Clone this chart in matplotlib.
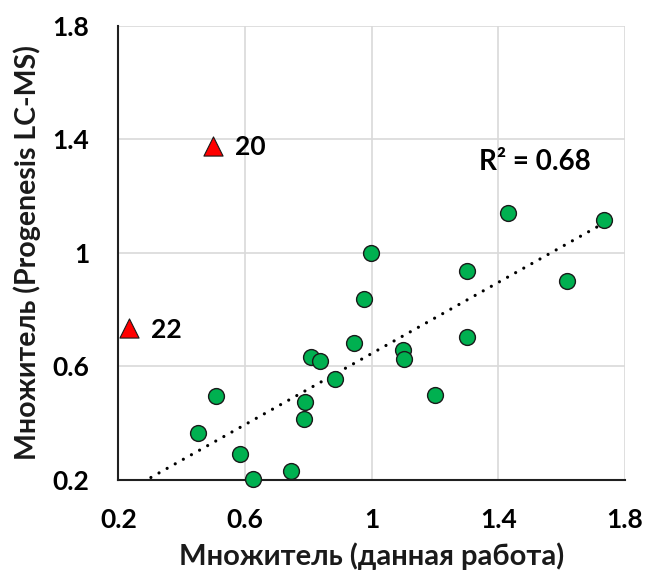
import numpy as np
import matplotlib
matplotlib.use("Agg")
import matplotlib.pyplot as plt

plt.rcParams['font.family'] = ['Lato', 'DejaVu Sans']

# Data
x_circ = [1.430, 1.735, 0.999, 1.301, 1.619, 0.977, 0.945, 1.301, 1.099, 1.102,
          0.810, 0.838, 0.884, 1.200, 0.507, 0.791, 0.787, 0.450, 0.584, 0.744, 0.626]
y_circ = [1.139, 1.114, 1.000, 0.936, 0.901, 0.838, 0.681, 0.702, 0.658, 0.625,
          0.634, 0.620, 0.556, 0.498, 0.496, 0.474, 0.414, 0.367, 0.292, 0.233, 0.205]
x_tri = [0.499, 0.232]
y_tri = [1.377, 0.734]
tri_labels = ["20", "22"]
ticks = [0.2, 0.6, 1.0, 1.4, 1.8]
tick_labels = ["0.2", "0.6", "1", "1.4", "1.8"]
r2_text = "R² = 0.68"
xlabel = "Множитель (данная работа)"
ylabel = "Множитель (Progenesis LC-MS)"

fig = plt.figure(figsize=(6.46, 5.77), dpi=100)
ax = fig.add_axes([0.1834, 0.1681, 0.7837, 0.7874])
ax.set_xlim(0.2, 1.8)
ax.set_ylim(0.2, 1.8)
ax.set_xticks(ticks)
ax.set_xticklabels(tick_labels)
ax.set_yticks(ticks)
ax.set_yticklabels(tick_labels)
ax.grid(True, color='#d9d9d9', linewidth=1.2, zorder=0)
ax.set_axisbelow(True)
for s in ['top', 'right']:
    ax.spines[s].set_visible(False)
for s in ['left', 'bottom']:
    ax.spines[s].set_color('#202020')
    ax.spines[s].set_linewidth(1.5)
    ax.spines[s].set_zorder(1)
ax.tick_params(axis='x', length=0, labelsize=19, pad=20)
ax.tick_params(axis='y', length=0, labelsize=19, pad=21)
for lab in ax.get_xticklabels() + ax.get_yticklabels():
    lab.set_fontweight('bold')

# trendline
a, b = np.polyfit(x_circ, y_circ, 1)
xs = np.linspace(0.2, max(x_circ), 100)
ax.plot(xs, a * xs + b, linestyle=(0, (0.01, 2.9)), color='black', linewidth=2.3,
        dash_capstyle='round', zorder=2)

ax.scatter(x_circ, y_circ, s=130, color='#00B050', edgecolor='#1a1a1a', linewidth=1.0,
           zorder=3, clip_on=False)
ax.scatter(x_tri, y_tri, s=190, marker='^', color='#FF0000', edgecolor='#1a1a1a',
           linewidth=0.8, zorder=3, clip_on=False)
for xv, yv, t in zip(x_tri, y_tri, tri_labels):
    ax.annotate(t, (xv, yv), xytext=(16, -1), textcoords='offset points',
                fontsize=19, fontweight='bold', va='center', ha='left')

ax.text(1.517, 1.32, r2_text, fontsize=20, fontweight='bold', ha='center', va='center')

ax.set_xlabel(xlabel, fontsize=21, fontweight='bold', labelpad=8, color='#1a1a1a')
ax.set_ylabel(ylabel, fontsize=20.5, fontweight='bold', labelpad=8, color='#1a1a1a')

fig.savefig("out.png", dpi=100)
